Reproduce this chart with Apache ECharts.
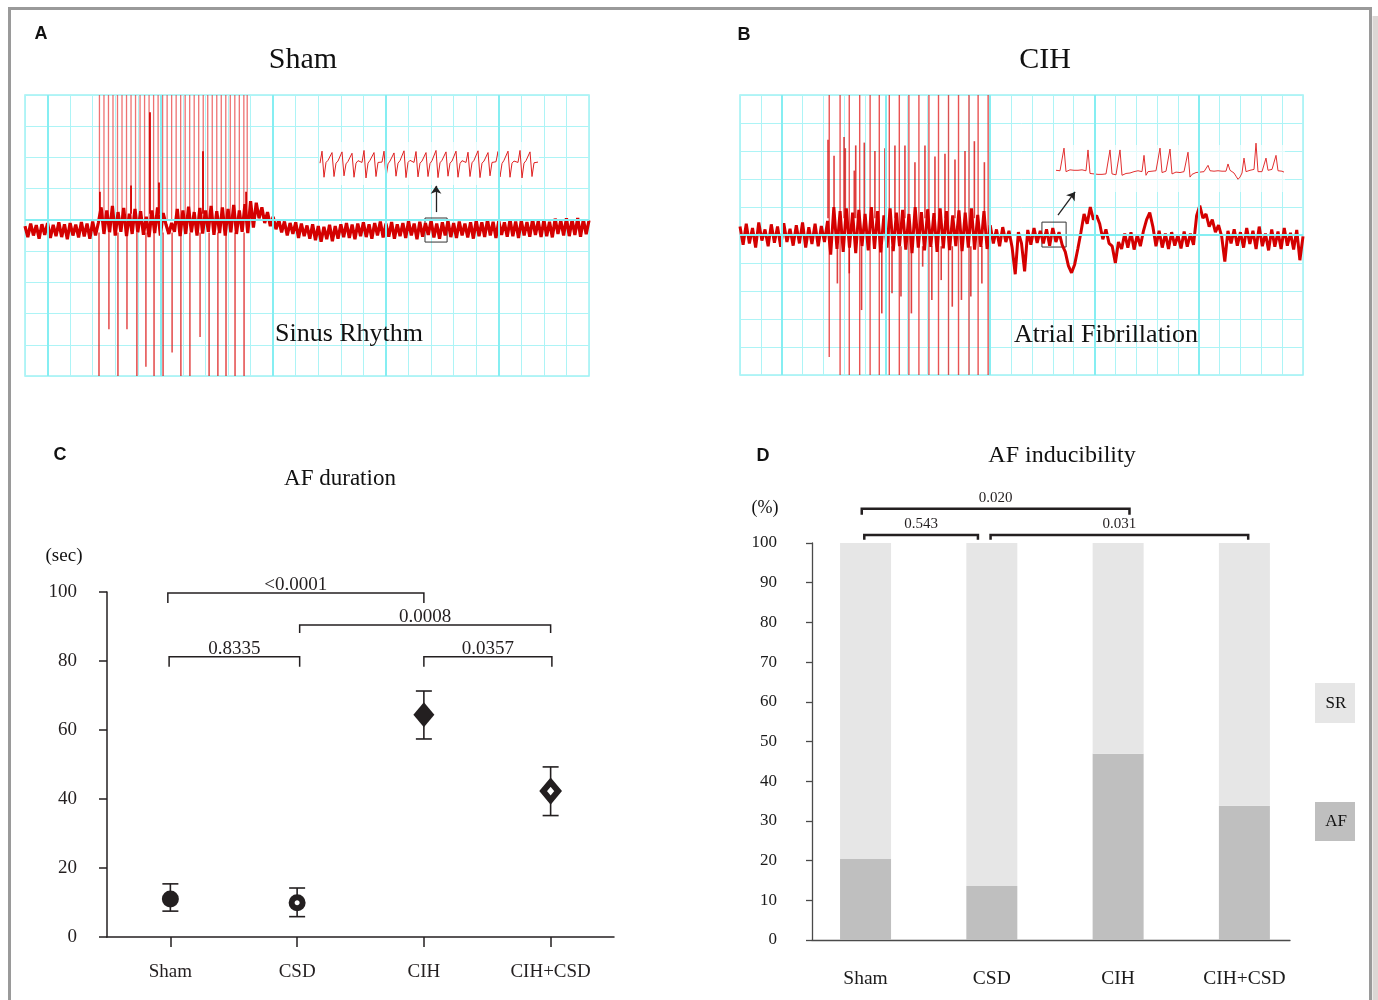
<!DOCTYPE html>
<html>
<head>
<meta charset="utf-8">
<title>AF duration and inducibility</title>
<script src="https://cdn.jsdelivr.net/npm/echarts@6.0.0/dist/echarts.min.js"></script>
<style>
  html, body { margin: 0; padding: 0; background: #fff; }
  #chart { width: 1378px; height: 1000px; }
</style>
</head>
<body>
<div id="chart"></div>
<script>
// Panel A (Sham): trace sampled across 25 grid squares, values in grid squares from the bottom of the strip
const shamTrace = [
  4.80, 4.45, 4.88, 4.50, 4.83, 4.40, 4.86, 4.52, 4.90, 4.42,
  4.84, 4.48, 4.92, 4.45, 4.86, 4.38, 4.90, 4.50, 4.85, 4.44,
  4.93, 4.47, 4.88, 4.40, 4.95, 4.50, 4.90, 5.40, 4.55, 5.30,
  4.60, 5.45, 4.50, 5.25, 4.62, 5.38, 4.48, 5.20, 4.55, 5.35,
  4.60, 5.28, 4.52, 5.10, 4.45, 5.30, 4.58, 5.40, 4.50, 5.22,
  4.85, 4.55, 4.90, 4.62, 5.35, 4.48, 5.30, 4.55, 5.42, 4.60,
  5.25, 4.50, 5.38, 4.56, 5.30, 4.62, 5.45, 4.52, 5.28, 4.58,
  5.40, 4.50, 5.35, 4.60, 5.48, 4.55, 5.30, 4.62, 5.50, 4.58,
  5.60, 4.75, 5.55, 5.05, 5.40, 4.90, 5.25, 4.80, 5.10, 4.70,
  5.00, 4.60, 4.95, 4.50, 4.90, 4.55, 4.92, 4.42, 4.88, 4.48,
  4.82, 4.40, 4.86, 4.35, 4.80, 4.30, 4.78, 4.38, 4.84, 4.32,
  4.80, 4.40, 4.86, 4.45, 4.90, 4.42, 4.85, 4.38, 4.88, 4.48,
  4.92, 4.45, 4.86, 4.40, 4.90, 4.50, 4.95, 4.44, 4.88, 4.46,
  4.93, 4.40, 4.86, 4.48, 4.90, 4.42, 4.96, 4.50, 4.88, 4.38,
  4.94, 4.46, 4.90, 4.52, 4.98, 4.44, 4.88, 4.40, 4.92, 4.50,
  4.96, 4.45, 4.90, 4.42, 4.95, 4.50, 4.88, 4.44, 4.92, 4.40,
  4.98, 4.48, 4.92, 4.45, 5.00, 4.50, 4.94, 4.42, 4.96, 4.52,
  4.92, 4.46, 5.00, 4.48, 4.95, 4.42, 4.98, 4.50, 4.93, 4.46,
  5.02, 4.52, 4.96, 4.45, 5.00, 4.48, 4.94, 4.44, 5.04, 4.55,
  4.98, 4.50, 5.05, 4.48, 5.00, 4.52, 5.06, 4.46, 5.02, 4.54,
  4.98
];
// stimulus artefacts of the burst (time), reaching the top of the strip
const shamStimUp = [3.30, 3.50, 3.70, 3.90, 4.10, 4.30, 4.50, 4.70, 4.90, 5.10, 5.30, 5.50,
  5.70, 5.90, 6.10, 6.30, 6.50, 6.70, 6.90, 7.10, 7.30, 7.50, 7.70, 7.90, 8.10, 8.30,
  8.50, 8.70, 8.90, 9.10, 9.30, 9.50, 9.70, 9.85];
// [time, lowest value] of the downward artefacts
const shamStimDown = [[3.28, 0], [3.72, 1.5], [4.12, 0], [4.52, 1.5], [4.96, 0], [5.36, 0.3],
  [5.72, 0], [6.12, 0], [6.52, 0.75], [6.91, 0], [7.31, 0], [7.76, 1.25], [8.16, 0],
  [8.55, 0], [8.91, 0], [9.31, 0], [9.71, 0]];
// [time, peak] of the taller beats during the burst
const shamBeatPeaks = [[3.32, 5.9], [4.70, 6.1], [5.54, 8.45], [5.94, 6.2], [7.89, 7.2], [9.80, 5.9]];
// magnified sinus beats (inset)
const shamInset = [
  0.50, 0.84, 0.10, 0.52, 0.58, 0.55, 0.80, 0.12, 0.50, 0.56,
  0.54, 0.82, 0.14, 0.48, 0.55, 0.52, 0.78, 0.10, 0.50, 0.57,
  0.55, 0.52, 0.86, 0.08, 0.50, 0.58, 0.54, 0.80, 0.12, 0.52,
  0.56, 0.53, 0.84, 0.10, 0.48, 0.56, 0.52, 0.79, 0.13, 0.50,
  0.57, 0.54, 0.85, 0.09, 0.52, 0.58, 0.55, 0.52, 0.83, 0.11,
  0.50, 0.56, 0.53, 0.80, 0.12, 0.49, 0.57, 0.54, 0.86, 0.09,
  0.51, 0.58, 0.55, 0.82, 0.13, 0.50, 0.56, 0.53, 0.84, 0.10,
  0.49, 0.57, 0.55, 0.52, 0.81, 0.12, 0.51, 0.58, 0.54, 0.85,
  0.09, 0.50, 0.56, 0.53, 0.80, 0.14, 0.52, 0.57, 0.54, 0.83,
  0.11, 0.49, 0.58, 0.55, 0.84, 0.10, 0.50, 0.56, 0.53, 0.52,
  0.86, 0.08, 0.50, 0.57, 0.54, 0.82, 0.12, 0.51, 0.55, 0.53
];

// Panel B (CIH): trace across 27 grid squares
const cihTrace = [
  5.30, 4.65, 5.40, 4.70, 5.25, 4.55, 5.45, 4.80, 5.20, 4.60,
  5.38, 4.72, 5.30, 4.58, 5.42, 4.75, 5.22, 4.62, 5.35, 4.70,
  5.45, 4.55, 5.28, 4.68, 5.40, 4.60, 5.32, 4.75, 5.50,
  4.30, 6.00, 4.50, 5.85, 4.40, 5.95, 4.55, 5.80, 4.35, 5.90,
  4.60, 5.75, 4.45, 6.00, 4.50, 5.85, 4.38, 5.70, 4.55, 5.95,
  4.42, 5.80, 4.60, 5.90, 4.48, 5.75, 4.35, 6.00, 4.55, 5.82,
  4.45, 5.92, 4.58, 5.78, 4.40, 5.95, 4.52, 5.85, 4.46, 5.70,
  4.60, 5.88, 4.42, 5.80, 4.55, 5.95, 4.48, 5.72, 4.58, 5.85,
  4.50,
  5.35, 4.70, 5.20, 4.60, 5.28, 4.75, 5.15, 4.55, 3.60, 5.10, 4.70, 3.70, 5.18, 4.65, 5.25, 4.72, 5.15,
  4.70, 5.20, 4.62, 5.25, 4.75, 5.10, 4.65,
  4.40, 3.90, 3.65, 3.95, 4.50,
  5.10, 5.75, 5.40, 6.00, 5.55, 5.70,
  5.40, 4.85, 5.20, 4.70, 4.60, 4.00, 4.75,
  4.50, 5.05, 4.55, 5.10, 4.48, 5.00, 4.60, 5.15,
  5.55, 5.80, 5.30,
  4.60, 5.15, 4.55, 5.05, 4.50, 5.10, 4.62, 5.00, 4.52, 5.12, 4.58, 5.05, 4.65,
  5.70, 6.05, 5.60,
  5.75, 5.30, 5.55, 5.10, 5.35, 4.95, 4.05, 5.15,
  4.70, 5.20, 4.62, 5.10, 4.55, 5.25, 4.68, 5.15, 4.50, 5.30,
  4.60, 5.05, 4.45, 5.20, 4.58, 5.12, 4.50, 5.25, 4.62, 5.08,
  4.48, 5.18, 4.10, 4.95
];
// [time, lowest value] of the full-height stimulus artefacts
const cihStim = [[4.28, 0.64], [4.80, 0], [5.24, 0], [5.74, 0], [6.24, 0], [6.68, 0], [7.16, 0],
  [7.64, 0], [8.10, 0], [8.58, 0], [9.06, 0], [9.52, 0], [10.00, 0], [10.48, 0], [10.98, 0],
  [11.42, 0], [11.90, 0]];
const cihBeatPeaks = [[4.22, 8.4], [4.51, 7.83], [4.99, 8.5], [5.05, 8.1], [5.48, 7.3], [5.55, 8.2],
  [5.96, 8.3], [6.47, 8.0], [6.95, 8.1], [7.43, 8.2], [7.91, 8.2], [8.39, 7.6], [8.87, 8.2],
  [9.35, 7.8], [9.83, 7.9], [10.31, 7.7], [10.79, 8.0], [11.24, 8.35], [11.72, 7.6]];
const cihBeatTroughs = [[4.67, 3.27], [5.24, 3.63], [5.83, 2.32], [6.80, 2.2], [7.29, 2.92],
  [7.72, 2.8], [8.22, 2.2], [8.76, 3.87], [9.20, 2.68], [9.65, 3.39], [10.18, 2.44],
  [10.62, 2.68], [11.07, 2.8], [11.60, 3.27]];
const cihInset = [
  0.33, 0.34, 0.32, 0.35, 0.82,
  0.30, 0.33, 0.34, 0.32, 0.33, 0.35, 0.33, 0.32, 0.34, 0.33, 0.32, 0.78,
  0.26, 0.24, 0.25, 0.23, 0.24, 0.26, 0.24, 0.23, 0.25, 0.24, 0.78,
  0.25, 0.24, 0.23, 0.25, 0.78,
  0.22, 0.24, 0.26, 0.25, 0.27, 0.28, 0.30, 0.31, 0.32, 0.31, 0.30, 0.66,
  0.22, 0.30, 0.32, 0.31, 0.33, 0.32, 0.31, 0.82,
  0.28, 0.30, 0.31, 0.30, 0.80,
  0.25, 0.27, 0.29, 0.30, 0.28, 0.29, 0.30, 0.31, 0.73,
  0.18, 0.24, 0.27, 0.28, 0.27, 0.29, 0.28, 0.30, 0.31, 0.44,
  0.32, 0.33, 0.31, 0.30, 0.32, 0.33, 0.31, 0.30, 0.31, 0.47,
  0.33, 0.32, 0.27, 0.20, 0.13, 0.18, 0.27, 0.60,
  0.30, 0.32, 0.33, 0.34, 0.35, 0.93,
  0.30, 0.31, 0.30, 0.32, 0.60,
  0.33, 0.32, 0.35, 0.36, 0.66,
  0.32, 0.30, 0.31, 0.29
];

// Panel C: AF duration (sec), mean and error bar ends
const groups = ['Sham', 'CSD', 'CIH', 'CIH+CSD'];
const durationMean = [11.0, 9.9, 64.4, 42.3];
const durationLow = [7.5, 5.9, 57.4, 35.2];
const durationHigh = [15.4, 14.2, 71.3, 49.3];
// [from group, to group, bar level, leg end]
const durationBrackets = [[-0.02, 2.0, 99.7, 96.8], [-0.01, 1.02, 81.2, 78.3], [1.02, 3.0, 90.4, 88.1], [2.0, 3.01, 81.2, 78.3]];
const durationP = ['<0.0001', '0.8335', '0.0008', '0.0357'];

// Panel D: AF inducibility (%)
const afRate = [20.4, 13.6, 46.9, 33.8];
const srRate = [79.6, 86.4, 53.1, 66.2];
const inducBrackets = [[-0.03, 2.09, 108.6, 107.1], [-0.01, 0.89, 102.0, 100.8], [0.99, 3.03, 102.0, 100.8]];
const inducP = ['0.020', '0.543', '0.031'];

const serif = "'Liberation Serif', 'Times New Roman', serif";
const ink = '#231f20';
const minorGrid = '#adf4f6';
const majorGrid = '#86eef2';
const red = '#d40000';

function segment(color, width) {
  return function (params, api) {
    const a = api.coord([api.value(0), api.value(1)]);
    const b = api.coord([api.value(0), api.value(2)]);
    return { type: 'line', shape: { x1: a[0], y1: a[1], x2: b[0], y2: b[1] }, style: { stroke: color, lineWidth: width } };
  };
}

function bracket(labels, lineWidth, fontSize, lift) {
  return function (params, api) {
    const x1 = api.value(0), x2 = api.value(1), top = api.value(2), leg = api.value(3);
    const a = api.coord([x1, leg]), b = api.coord([x1, top]), c = api.coord([x2, top]), d = api.coord([x2, leg]);
    return {
      type: 'group',
      children: [
        { type: 'polyline', shape: { points: [a, b, c, d] }, style: { fill: 'none', stroke: ink, lineWidth: lineWidth } },
        {
          type: 'text', x: (b[0] + c[0]) / 2, y: b[1] - lift,
          style: { text: labels[params.dataIndex], font: fontSize + 'px ' + serif, fill: ink, textAlign: 'center', textVerticalAlign: 'middle' }
        }
      ]
    };
  };
}

function errorBar(params, api) {
  const top = api.coord([api.value(0), api.value(2)]);
  const bot = api.coord([api.value(0), api.value(1)]);
  const st = { stroke: ink, lineWidth: 1.6 };
  return {
    type: 'group',
    children: [
      { type: 'line', shape: { x1: top[0], y1: top[1], x2: bot[0], y2: bot[1] }, style: st },
      { type: 'line', shape: { x1: top[0] - 8, y1: top[1], x2: top[0] + 8, y2: top[1] }, style: st },
      { type: 'line', shape: { x1: bot[0] - 8, y1: bot[1], x2: bot[0] + 8, y2: bot[1] }, style: st }
    ]
  };
}

// AF share at the bottom, SR share stacked on top of it
function stackedBar(params, api) {
  const x = api.value(0), af = api.value(1), sr = api.value(2);
  const p0 = api.coord([x, 0]), p1 = api.coord([x, af]), p2 = api.coord([x, af + sr]);
  const half = 25.5;
  return {
    type: 'group',
    children: [
      { type: 'rect', shape: { x: p0[0] - half, y: p1[1], width: half * 2, height: p0[1] - p1[1] }, style: { fill: '#bfbfbf' } },
      { type: 'rect', shape: { x: p0[0] - half, y: p2[1], width: half * 2, height: p1[1] - p2[1] }, style: { fill: '#e6e6e6' } }
    ]
  };
}

function stripAxis(grid, max) {
  return {
    gridIndex: grid, type: 'value', min: 0, max: max, interval: 1,
    axisLine: { show: false }, axisTick: { show: false }, axisLabel: { show: false },
    splitLine: { show: true, lineStyle: { color: minorGrid, width: 1 } }
  };
}

function majors(xi, values, yValues) {
  return {
    type: 'line', xAxisIndex: xi, yAxisIndex: xi, data: [], z: 1,
    markLine: {
      silent: true, symbol: 'none', label: { show: false },
      lineStyle: { color: majorGrid, width: 2, type: 'solid' },
      data: values.map(v => ({ xAxis: v })).concat(yValues.map(v => ({ yAxis: v })))
    }
  };
}

const dtA = 25 / (shamTrace.length - 1);
const dtB = 27 / (cihTrace.length - 1);

const chart = echarts.init(document.getElementById('chart'));

const option = {
  animation: false,
  backgroundColor: '#fff',
  grid: [
    { left: 25, right: 789, top: 95, bottom: 624, show: true, borderColor: '#a0f1f4', borderWidth: 1.5 },
    { left: 320, width: 218, top: 142, height: 43 },
    { left: 740, right: 75, top: 95, bottom: 625, show: true, borderColor: '#a0f1f4', borderWidth: 1.5 },
    { left: 1056, width: 228, top: 140, height: 52 },
    { left: 107, right: 764, top: 592, bottom: 63 },
    { left: 812, right: 88, top: 543, bottom: 60 }
  ],
  xAxis: [
    stripAxis(0, 25),
    { gridIndex: 1, type: 'category', boundaryGap: false, show: false },
    stripAxis(2, 27),
    { gridIndex: 3, type: 'category', boundaryGap: false, show: false },
    {
      gridIndex: 4, type: 'value', min: -0.5, max: 3.5,
      axisLine: { show: true, onZero: false, lineStyle: { color: ink, width: 1.5 } },
      axisTick: { show: true, customValues: [0, 1, 2, 3], length: 10, lineStyle: { color: ink, width: 1.5 } },
      axisLabel: { customValues: [0, 1, 2, 3], formatter: v => groups[Math.round(v)], margin: 26, color: ink, fontFamily: serif, fontSize: 19 },
      splitLine: { show: false }
    },
    {
      gridIndex: 5, type: 'value', min: -0.424, max: 3.361,
      axisLine: { show: true, onZero: false, lineStyle: { color: '#4a4a4a', width: 1.3 } },
      axisTick: { show: false },
      axisLabel: { customValues: [0, 1, 2, 3], formatter: v => groups[Math.round(v)], margin: 29, color: '#1a1a1a', fontFamily: serif, fontSize: 19.5 },
      splitLine: { show: false }
    }
  ],
  yAxis: [
    stripAxis(0, 9),
    { gridIndex: 1, type: 'value', min: -0.12, max: 1.1, show: false },
    stripAxis(2, 10),
    { gridIndex: 3, type: 'value', min: -0.15, max: 1.0, show: false },
    {
      gridIndex: 4, type: 'value', min: 0, max: 100, interval: 20,
      axisLine: { show: true, onZero: false, lineStyle: { color: ink, width: 1.5 } },
      axisTick: { show: true, length: 8, lineStyle: { color: ink, width: 1.5 } },
      axisLabel: { margin: 30, color: ink, fontFamily: serif, fontSize: 19 },
      splitLine: { show: false }
    },
    {
      gridIndex: 5, type: 'value', min: 0, max: 100, interval: 10,
      axisLine: { show: true, onZero: false, lineStyle: { color: '#4a4a4a', width: 1.3 } },
      axisTick: { show: true, length: 6, lineStyle: { color: '#4a4a4a', width: 1.3 } },
      axisLabel: { margin: 35, color: '#1a1a1a', fontFamily: serif, fontSize: 17 },
      splitLine: { show: false }
    }
  ],
  series: [
    // panel A
    majors(0, [1, 6, 11, 16, 21], [5]),
    {
      type: 'custom', xAxisIndex: 0, yAxisIndex: 0, z: 2,
      renderItem: segment('rgba(232, 60, 60, 0.72)', 1.3),
      encode: { x: 0, y: [1, 2] },
      data: shamStimUp.map(t => [t, 5.0, 9])
    },
    {
      type: 'custom', xAxisIndex: 0, yAxisIndex: 0, z: 2,
      renderItem: segment('rgba(220, 25, 25, 0.85)', 1.4),
      encode: { x: 0, y: [1, 2] },
      data: shamStimDown.map(d => [d[0], d[1], 4.6])
    },
    {
      type: 'line', xAxisIndex: 0, yAxisIndex: 0, z: 3,
      data: shamTrace.map((v, i) => [i * dtA, v]),
      symbol: 'none', lineStyle: { color: red, width: 3.2 },
      markArea: {
        silent: true,
        itemStyle: { color: 'rgba(0,0,0,0)', borderColor: '#333', borderWidth: 1 },
        data: [[{ coord: [17.73, 5.06] }, { coord: [18.71, 4.29] }]]
      },
      markLine: {
        silent: true, symbol: ['none', 'arrow'], symbolSize: 8, label: { show: false },
        lineStyle: { color: '#222', width: 1.3, type: 'solid' },
        data: [[{ coord: [18.22, 5.25] }, { coord: [18.22, 6.09] }]]
      }
    },
    {
      type: 'custom', xAxisIndex: 0, yAxisIndex: 0, z: 4,
      renderItem: segment(red, 1.8),
      encode: { x: 0, y: [1, 2] },
      data: shamBeatPeaks.map(d => [d[0], 5.2, d[1]])
    },
    {
      type: 'line', xAxisIndex: 1, yAxisIndex: 1, z: 3, data: shamInset,
      symbol: 'none', lineStyle: { color: '#e02020', width: 1 }
    },
    // panel B
    majors(2, [2, 7, 12, 17, 22], [5]),
    {
      type: 'custom', xAxisIndex: 2, yAxisIndex: 2, z: 2,
      renderItem: segment('rgba(228, 40, 40, 0.8)', 1.4),
      encode: { x: 0, y: [1, 2] },
      data: cihStim.map(d => [d[0], d[1], 10])
    },
    {
      type: 'line', xAxisIndex: 2, yAxisIndex: 2, z: 3,
      data: cihTrace.map((v, i) => [i * dtB, v]),
      symbol: 'none', lineStyle: { color: red, width: 3.0 },
      markArea: {
        silent: true,
        itemStyle: { color: 'rgba(0,0,0,0)', borderColor: '#333', borderWidth: 1 },
        data: [[{ coord: [14.48, 5.46] }, { coord: [15.64, 4.57] }]]
      },
      markLine: {
        silent: true, symbol: ['none', 'arrow'], symbolSize: 8, label: { show: false },
        lineStyle: { color: '#222', width: 1.3, type: 'solid' },
        data: [[{ coord: [15.25, 5.71] }, { coord: [16.07, 6.54] }]]
      }
    },
    {
      type: 'custom', xAxisIndex: 2, yAxisIndex: 2, z: 4,
      renderItem: segment('rgba(214, 0, 0, 0.75)', 1.6),
      encode: { x: 0, y: [1, 2] },
      data: cihBeatPeaks.map(d => [d[0], 5.6, d[1]])
    },
    {
      type: 'custom', xAxisIndex: 2, yAxisIndex: 2, z: 4,
      renderItem: segment('rgba(214, 0, 0, 0.75)', 1.6),
      encode: { x: 0, y: [1, 2] },
      data: cihBeatTroughs.map(d => [d[0], d[1], 4.6])
    },
    {
      type: 'line', xAxisIndex: 3, yAxisIndex: 3, z: 3, data: cihInset,
      symbol: 'none', lineStyle: { color: '#e23030', width: 1 }
    },
    // panel C
    {
      type: 'custom', xAxisIndex: 4, yAxisIndex: 4, z: 3,
      renderItem: errorBar, encode: { x: 0, y: [1, 2] },
      data: groups.map((g, i) => [i, durationLow[i], durationHigh[i]])
    },
    {
      type: 'scatter', xAxisIndex: 4, yAxisIndex: 4, z: 4,
      data: groups.map((g, i) => {
        const hollow = i === 1 || i === 3;
        const diamond = i >= 2;
        return {
          value: [i, durationMean[i]],
          symbol: diamond ? 'diamond' : 'circle',
          symbolSize: diamond ? (hollow ? [15, 18] : [21, 25]) : (hollow ? 11 : 17),
          itemStyle: { color: hollow ? '#fff' : ink, borderColor: ink, borderWidth: hollow ? 6 : 0, opacity: 1 }
        };
      })
    },
    {
      type: 'custom', xAxisIndex: 4, yAxisIndex: 4, z: 5,
      renderItem: bracket(durationP, 1.5, 19, 8),
      encode: { x: [0, 1], y: [2, 3] },
      data: durationBrackets
    },
    // panel D
    {
      type: 'custom', xAxisIndex: 5, yAxisIndex: 5, z: 2,
      renderItem: stackedBar, encode: { x: 0, y: [1, 2] },
      data: groups.map((g, i) => [i, afRate[i], srRate[i]])
    },
    {
      type: 'custom', xAxisIndex: 5, yAxisIndex: 5, z: 5,
      renderItem: bracket(inducP, 2.5, 15, 10.5),
      encode: { x: [0, 1], y: [2, 3] },
      data: inducBrackets
    }
  ],
  graphic: [
    { type: 'rect', z: 1, shape: { x: 319, y: 142, width: 220, height: 43 }, style: { fill: 'rgba(255,255,255,0.65)' } },
    { type: 'rect', z: 1, shape: { x: 1055, y: 145, width: 230, height: 47 }, style: { fill: 'rgba(255,255,255,0.65)' } },
    { type: 'rect', z: 100, shape: { x: 9.5, y: 8.5, width: 1361, height: 1010 }, style: { fill: 'transparent', stroke: '#9a9a9a', lineWidth: 3 } },
    { type: 'rect', z: 100, shape: { x: 1372.5, y: 16, width: 6, height: 984 }, style: { fill: '#dcd7d5' } },
    { type: 'text', z: 100, x: 41, y: 34, style: { text: 'A', font: "bold 18px 'Liberation Sans', Arial, sans-serif", fill: '#111', textAlign: 'center', textVerticalAlign: 'middle' } },
    { type: 'text', z: 100, x: 744, y: 35, style: { text: 'B', font: "bold 18px 'Liberation Sans', Arial, sans-serif", fill: '#111', textAlign: 'center', textVerticalAlign: 'middle' } },
    { type: 'text', z: 100, x: 60, y: 455, style: { text: 'C', font: "bold 18px 'Liberation Sans', Arial, sans-serif", fill: '#111', textAlign: 'center', textVerticalAlign: 'middle' } },
    { type: 'text', z: 100, x: 763, y: 456, style: { text: 'D', font: "bold 18px 'Liberation Sans', Arial, sans-serif", fill: '#111', textAlign: 'center', textVerticalAlign: 'middle' } },
    { type: 'text', z: 100, x: 303, y: 60, style: { text: 'Sham', font: '30px ' + serif, fill: '#111', textAlign: 'center', textVerticalAlign: 'middle' } },
    { type: 'text', z: 100, x: 1045, y: 60, style: { text: 'CIH', font: '30px ' + serif, fill: '#111', textAlign: 'center', textVerticalAlign: 'middle' } },
    { type: 'text', z: 100, x: 349, y: 334, style: { text: 'Sinus Rhythm', font: '26px ' + serif, fill: '#111', textAlign: 'center', textVerticalAlign: 'middle' } },
    { type: 'text', z: 100, x: 1106, y: 335, style: { text: 'Atrial Fibrillation', font: '26px ' + serif, fill: '#111', textAlign: 'center', textVerticalAlign: 'middle' } },
    { type: 'text', z: 100, x: 340, y: 479, style: { text: 'AF duration', font: '23px ' + serif, fill: '#111', textAlign: 'center', textVerticalAlign: 'middle' } },
    { type: 'text', z: 100, x: 1062, y: 456, style: { text: 'AF inducibility', font: '24px ' + serif, fill: '#111', textAlign: 'center', textVerticalAlign: 'middle' } },
    { type: 'text', z: 100, x: 64, y: 556, style: { text: '(sec)', font: '19px ' + serif, fill: '#111', textAlign: 'center', textVerticalAlign: 'middle' } },
    { type: 'text', z: 100, x: 765, y: 508, style: { text: '(%)', font: '18px ' + serif, fill: '#111', textAlign: 'center', textVerticalAlign: 'middle' } },
    { type: 'rect', z: 100, shape: { x: 1315, y: 683, width: 40, height: 40 }, style: { fill: '#e6e6e6' } },
    { type: 'text', z: 101, x: 1336, y: 704, style: { text: 'SR', font: '17px ' + serif, fill: '#111', textAlign: 'center', textVerticalAlign: 'middle' } },
    { type: 'rect', z: 100, shape: { x: 1315, y: 802, width: 40, height: 39 }, style: { fill: '#bfbfbf' } },
    { type: 'text', z: 101, x: 1336, y: 822, style: { text: 'AF', font: '17px ' + serif, fill: '#111', textAlign: 'center', textVerticalAlign: 'middle' } }
  ]
};

chart.setOption(option);
</script>
</body>
</html>
